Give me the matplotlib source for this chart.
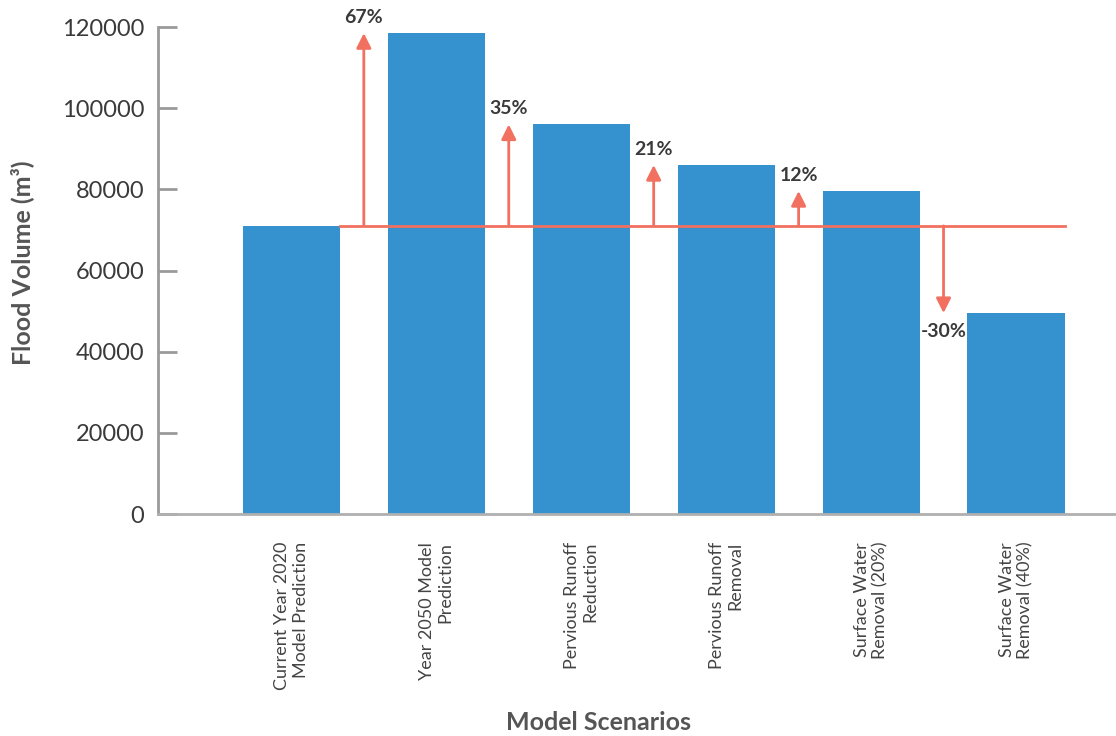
import matplotlib.pyplot as plt

plt.rcParams["font.family"] = ["Lato", "DejaVu Sans"]

scenarios = [
    "Current Year 2020\nModel Prediction",
    "Year 2050 Model\nPrediction",
    "Pervious Runoff\nReduction",
    "Pervious Runoff\nRemoval",
    "Surface Water\nRemoval (20%)",
    "Surface Water\nRemoval (40%)",
]
volumes = [71000, 118500, 96000, 86000, 79600, 49500]
change_labels = ["67%", "35%", "21%", "12%", "-30%"]

bar_color = "#3592ce"
red = "#f2705f"
text_dark = "#3a3a3a"
axis_grey = "#9a9a9a"

fig = plt.figure(figsize=(11.16, 7.36), dpi=100)
ax = fig.add_axes([0.1416, 0.3016, 0.8584, 0.6617])

x = list(range(len(scenarios)))
ax.bar(x, volumes, width=0.67, color=bar_color, zorder=2)

# reference line at the 2020 baseline
base = volumes[0]
ax.plot([0.335, len(x) - 1 + 0.335], [base, base], color=red, lw=2, zorder=3)

for i, lab in enumerate(change_labels):
    xi = i + 0.5
    tip = volumes[i + 1]
    ax.annotate("", xy=(xi, tip), xytext=(xi, base),
                arrowprops=dict(arrowstyle="-|>", color=red, lw=2,
                                mutation_scale=22, shrinkA=0, shrinkB=0),
                zorder=3)
    up = tip > base
    ax.annotate(lab, xy=(xi, tip), xytext=(0, 5 if up else -7),
                textcoords="offset points", ha="center",
                va="bottom" if up else "top", fontsize=14,
                fontweight="bold", color=text_dark, annotation_clip=False)

ax.set_xlim(-0.92, 5.69)
ax.set_ylim(0, 120000)
ax.set_yticks(range(0, 120001, 20000))
ax.set_xticks(x)
ax.set_xticklabels(scenarios, rotation=90, ha="center", va="top",
                   multialignment="right", fontsize=13, color="#444444")
ax.tick_params(axis="x", length=0, pad=20)
ax.tick_params(axis="y", direction="in", length=14, width=2, color=axis_grey,
               labelsize=17, labelcolor=text_dark, pad=10)

for s in ["top", "right"]:
    ax.spines[s].set_visible(False)
ax.spines["left"].set_color(axis_grey)
ax.spines["left"].set_linewidth(2)
ax.spines["bottom"].set_color("#b0b0b0")
ax.spines["bottom"].set_linewidth(2)

fig.text(0.02, 1 - 263 / 736, "Flood Volume (m³)", rotation=90, ha="center",
         va="center", fontsize=18, fontweight="bold", color="#555555")
fig.text(0.536, 1 - 722 / 736, "Model Scenarios", ha="center", va="center",
         fontsize=18, fontweight="bold", color="#555555")

fig.savefig("out.png", dpi=100)
